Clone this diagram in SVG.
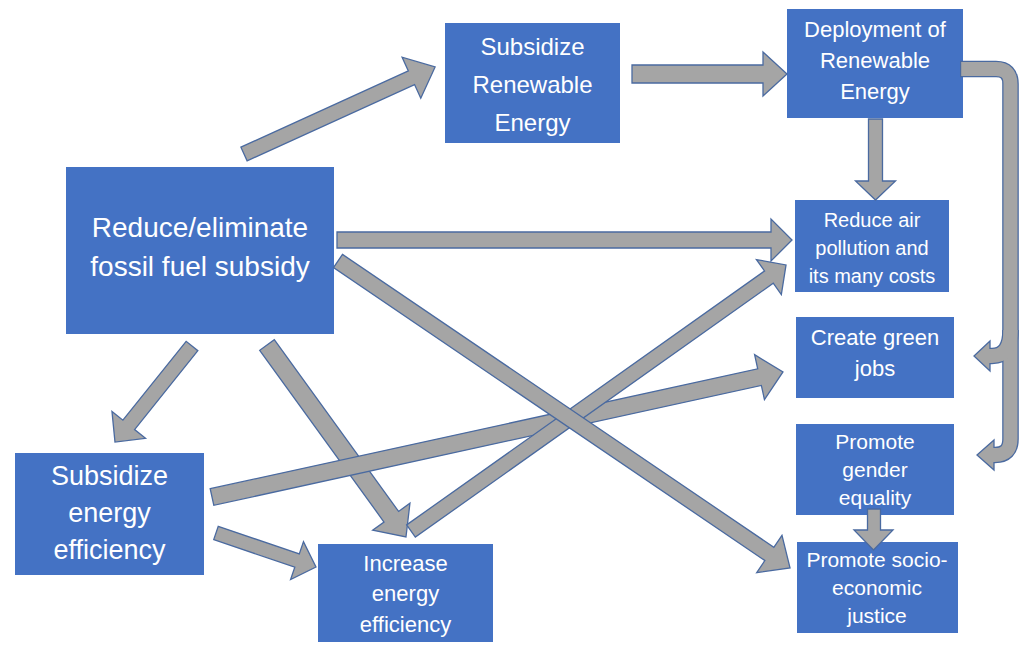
<svg xmlns="http://www.w3.org/2000/svg" width="1024" height="645" viewBox="0 0 1024 645">
<style>
.box{fill:#4472c4}
.t{fill:#ffffff;font-family:"Liberation Sans",Arial,sans-serif;text-anchor:middle}
.arr{fill:#a5a5a5;stroke:#4a6aa0;stroke-width:1.3;stroke-linejoin:miter}
.ol{fill:none;stroke:#4a6aa0;stroke-width:16.6}
.fl{fill:none;stroke:#a5a5a5;stroke-width:14}
</style>
<rect width="1024" height="645" fill="#ffffff"/>
<g id="n-subsidize-renewable">
<rect class="box" x="445" y="23" width="175" height="120"/>
<text class="t" font-size="24"><tspan x="532.5" y="55">Subsidize</tspan><tspan x="532.5" y="93">Renewable</tspan><tspan x="532.5" y="131">Energy</tspan></text>
</g>
<g id="n-deployment">
<rect class="box" x="787" y="9" width="176" height="109"/>
<text class="t" font-size="22"><tspan x="875" y="37">Deployment of</tspan><tspan x="875" y="68">Renewable</tspan><tspan x="875" y="99">Energy</tspan></text>
</g>
<g id="n-reduce-subsidy">
<rect class="box" x="66" y="167" width="268" height="167"/>
<text class="t" font-size="28"><tspan x="200" y="237">Reduce/eliminate</tspan><tspan x="200" y="276">fossil fuel subsidy</tspan></text>
</g>
<g id="n-air-pollution">
<rect class="box" x="795" y="200" width="154" height="92"/>
<text class="t" font-size="20"><tspan x="872" y="227">Reduce air</tspan><tspan x="872" y="255">pollution and</tspan><tspan x="872" y="283">its many costs</tspan></text>
</g>
<g id="n-green-jobs">
<rect class="box" x="796" y="317" width="158" height="81"/>
<text class="t" font-size="22"><tspan x="875" y="345">Create green</tspan><tspan x="875" y="376">jobs</tspan></text>
</g>
<g id="n-gender">
<rect class="box" x="796" y="424" width="158" height="91"/>
<text class="t" font-size="21"><tspan x="875" y="449">Promote</tspan><tspan x="875" y="477">gender</tspan><tspan x="875" y="505">equality</tspan></text>
</g>
<g id="n-socio">
<rect class="box" x="797" y="542" width="161" height="91"/>
<text class="t" font-size="21"><tspan x="877" y="567">Promote socio-</tspan><tspan x="877" y="595">economic</tspan><tspan x="877" y="623">justice</tspan></text>
</g>
<g id="n-subsidize-efficiency">
<rect class="box" x="15" y="453" width="189" height="122"/>
<text class="t" font-size="27"><tspan x="109.5" y="485">Subsidize</tspan><tspan x="109.5" y="522">energy</tspan><tspan x="109.5" y="559">efficiency</tspan></text>
</g>
<g id="n-increase-efficiency">
<rect class="box" x="318" y="544" width="175" height="98"/>
<text class="t" font-size="22"><tspan x="405.5" y="571">Increase</tspan><tspan x="405.5" y="601">energy</tspan><tspan x="405.5" y="632">efficiency</tspan></text>
</g>
<g id="connectors">
<polygon class="arr" transform="translate(192 346) rotate(128.73)" points="0,-7.5 101.1,-7.5 101.1,-21.5 123.1,0 101.1,21.5 101.1,7.5 0,7.5"/>
<polygon class="arr" transform="translate(267 345) rotate(54.1)" points="0,-9 212,-9 212,-23 237,0 212,23 212,9 0,9"/>
<polygon class="arr" transform="translate(212 497) rotate(-12.35)" points="0,-8.5 560.5,-8.5 560.5,-23 584.5,0 560.5,23 560.5,8.5 0,8.5"/>
<polygon class="arr" transform="translate(411 531) rotate(-35.35)" points="0,-7.5 438.8,-7.5 438.8,-21.5 459.8,0 438.8,21.5 438.8,7.5 0,7.5"/>
<polygon class="arr" points="337,232 771,232 771,219 792,240 771,261 771,248 337,248"/>
<polygon class="arr" transform="translate(338 261) rotate(34.18)" points="0,-8 521.4,-8 521.4,-22.5 546.4,0 521.4,22.5 521.4,8 0,8"/>
<polygon class="arr" transform="translate(244 154) rotate(-24.49)" points="0,-7.5 184,-7.5 184,-22.5 210,0 184,22.5 184,7.5 0,7.5"/>
<polygon class="arr" points="632,65 763,65 763,52 787,74 763,96 763,83 632,83"/>
<polygon class="arr" points="868.5,119 882.5,119 882.5,181 895.5,181 875.5,200 855.5,181 868.5,181"/>
<polygon class="arr" transform="translate(216 533) rotate(18.78)" points="0,-7 85.6,-7 85.6,-20 105.6,0 85.6,20 85.6,7 0,7"/>
<polygon class="arr" points="867.5,509 880.5,509 880.5,530 893,530 873.5,550 854,530 867.5,530"/>
<g id="curved-connector">
<path class="ol" d="M 960 69 H 996 Q 1010.5 69 1010.5 84 V 439 Q 1010.5 455 995 455 H 991"/>
<path class="ol" d="M 1010.5 330 Q 1010.5 356 992 356 H 989"/>
<polygon class="arr" points="990,341 974,356 990,371"/>
<polygon class="arr" points="994,440 977,455 994,470"/>
<path class="fl" d="M 961.2 69 H 996 Q 1010.5 69 1010.5 84 V 439 Q 1010.5 455 995 455 H 992"/>
<path class="fl" d="M 1010.5 330 Q 1010.5 356 992 356 H 989"/>
</g>
</g>
</svg>
